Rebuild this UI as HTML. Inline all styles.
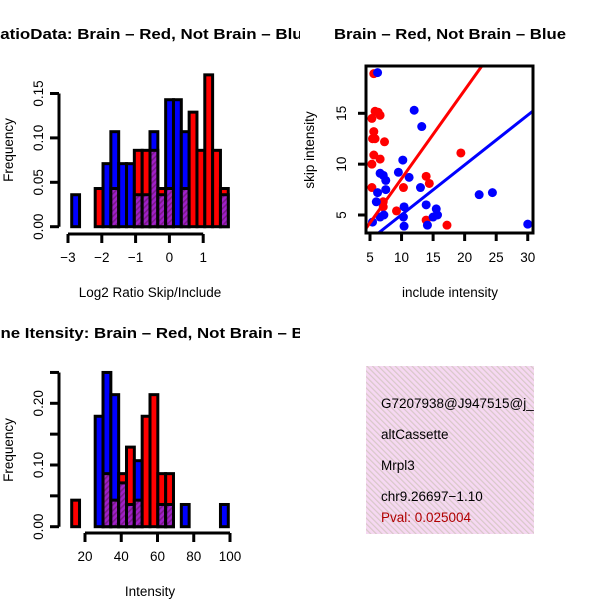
<!DOCTYPE html>
<html><head><meta charset="utf-8"><style>
body{margin:0;background:#fff}
svg{display:block;font-family:"Liberation Sans",Arial,sans-serif}
</style></head><body>
<svg id="c" width="600" height="600" viewBox="0 0 600 600">
<defs>
<pattern id="ph" width="4" height="4" patternUnits="userSpaceOnUse" patternTransform="rotate(45)">
<rect width="4" height="4" fill="#a020c8"/><rect width="1.6" height="4" fill="#7a1a8a"/></pattern>
<pattern id="pk" width="4" height="4" patternUnits="userSpaceOnUse" patternTransform="rotate(-45)">
<rect width="4" height="4" fill="#f6d8f2"/><rect width="1.2" height="4" fill="#d8c8c8"/></pattern>
<clipPath id="cl1"><rect x="0" y="0" width="300" height="300"/></clipPath>
<clipPath id="cl2"><rect x="0" y="300" width="300" height="300"/></clipPath>
<clipPath id="cl3"><rect x="366" y="66" width="167" height="167"/></clipPath>
<clipPath id="cl4"><rect x="366" y="366" width="168" height="168"/></clipPath>
</defs>
<text x="-12" y="39" font-size="14.5" font-weight="bold" textLength="324" lengthAdjust="spacingAndGlyphs" clip-path="url(#cl1)">RatioData: Brain – Red, Not Brain – Blue</text>
<text x="334" y="39" font-size="14.5" font-weight="bold" textLength="232" lengthAdjust="spacingAndGlyphs">Brain – Red, Not Brain – Blue</text>
<text x="-22" y="338" font-size="14.5" font-weight="bold" textLength="350" lengthAdjust="spacingAndGlyphs" clip-path="url(#cl2)">Gene Itensity: Brain – Red, Not Brain – Blue</text>
<g id="h1"></g>
<g id="h2"></g>
<g id="sc"></g>
<g>
<rect x="366" y="366" width="168" height="168" fill="url(#pk)"/>
<g font-size="13.5" clip-path="url(#cl4)">
<text x="381" y="408">G7207938@J947515@j_</text>
<text x="381" y="439">altCassette</text>
<text x="381" y="470">Mrpl3</text>
<text x="381" y="501">chr9.26697−1.10</text>
<text x="381" y="522" fill="#b00000">Pval: 0.025004</text>
</g></g>
</svg>
<script>
// Ratio histogram data
const h1Start = -2.89, h1Width = 0.2316;
const h1Red  = [0,0,0,.043,0,.043,0,0,.086,.086,.086,.043,.043,0,.043,.129,.086,.171,.086,.043];
const h1Blue = [.036,0,0,0,.071,.107,.071,.071,.036,.036,.107,.036,.143,.143,.107,0,0,0,0,.036];
const h1XTicks = [-3,-2,-1,0,1];
const h1YTicks = [0,0.05,0.10,0.15];
const h1YLabels = ["0.00","0.05","0.10","0.15"];
// Intensity histogram data
const h2Start = 12.66, h2Width = 4.32;
const h2Red  = [.043,0,0,0,.086,.043,.086,.129,.043,.179,.214,.086,.086,0,0,0,0,0,0,0];
const h2Blue = [0,0,0,.179,.25,.214,.071,.036,.107,0,0,.036,.036,0,.036,0,0,0,0,.036];
const h2XTicks = [20,40,60,80,100];
const h2YTicks = [0,0.05,0.10,0.15,0.20,0.25];
const h2YLabels = ["0.00","","0.10","","0.20",""];
// Scatter data
const redX = [5.6,5.8,6.3,5.3,6.6,5.6,5.8,5.4,7.3,5.6,6.6,5.3,5.3,7.1,7.1,9.2,10.3,13.9,14.4,13.9,17.2,19.4];
const redY = [18.9,15.2,15.1,14.5,14.8,13.2,12.5,12.5,12.2,10.9,10.5,10.0,7.7,6.3,5.8,5.4,7.7,8.8,8.1,4.5,4.0,11.1];
const blueX = [6.2,12.0,13.2,10.2,6.6,7.1,7.5,9.5,11.2,13.0,7.5,6.2,6.0,13.9,22.3,24.4,10.4,10.3,10.4,15.5,15.7,15.0,14.1,5.4,6.6,7.2,30.0];
const blueY = [19.0,15.3,13.7,10.4,9.1,8.9,8.4,9.2,8.7,7.7,7.5,7.2,6.3,6.0,7.0,7.2,5.8,4.8,3.9,5.6,5.0,4.8,4.0,4.3,4.8,5.0,4.1];
const redFit = [-0.12, 0.87];
const blueFit = [0.12, 0.49];
const scXTicks = [5,10,15,20,25,30];
const scYTicks = [5,10,15];

const NS = "http://www.w3.org/2000/svg";
const FS = 13.5;
function mk(parent, tag, attrs, text){
  const e = document.createElementNS(NS, tag);
  for (const k in attrs) e.setAttribute(k, attrs[k]);
  if (text !== undefined) e.textContent = text;
  parent.appendChild(e); return e;
}

function hist(g, start, width, red, blue, xs, ys, cfg){
  const X = v => cfg.x0 + (v - cfg.xv0) * cfg.xs;
  const Y = v => cfg.y0 - v * cfg.ys;
  for (let i = 0; i < red.length; i++){
    const a = X(start + i*width), b = X(start + (i+1)*width);
    const r = red[i], bl = blue[i];
    const big = Math.max(r, bl), small = Math.min(r, bl);
    const col = r >= bl ? "#ff0000" : "#0000ff";
    const e = mk(g, "rect", {x:a, y:Y(big), width:b-a, height:Y(0)-Y(big), fill:col, stroke:"#000", "stroke-width":3});
    
    
    if (small > 0){
      const p = mk(g, "rect", {x:a, y:Y(small), width:b-a, height:Y(0)-Y(small), fill:"url(#ph)", stroke:"#000", "stroke-width":3});
      
      
    }
  }
  const xa = mk(g, "g", {});
  
  
  mk(xa, "line", {x1:X(xs[0]), x2:X(xs[xs.length-1]), y1:cfg.xAxisY, y2:cfg.xAxisY, stroke:"#000", "stroke-width":3});
  xs.forEach(t => {
    mk(xa, "line", {x1:X(t), x2:X(t), y1:cfg.xAxisY, y2:cfg.xAxisY+9, stroke:"#000", "stroke-width":3});
    const l = mk(xa, "text", {x:X(t), y:cfg.xAxisY+28, "font-size":FS, "text-anchor":"middle"}, t < 0 ? "−"+(-t) : String(t));
    
    
  });
  const ya = mk(g, "g", {});
  
  
  mk(ya, "line", {x1:cfg.yAxisX, x2:cfg.yAxisX, y1:Y(ys[0]), y2:Y(ys[ys.length-1]), stroke:"#000", "stroke-width":3});
  ys.forEach((t, i) => {
    mk(ya, "line", {x1:cfg.yAxisX, x2:cfg.yAxisX-9, y1:Y(t), y2:Y(t), stroke:"#000", "stroke-width":3});
    if (cfg.ylabels[i]){
      const l = mk(ya, "text", {x:cfg.yAxisX-16, y:Y(t), "font-size":FS, "text-anchor":"middle", transform:`rotate(-90 ${cfg.yAxisX-16} ${Y(t)})`}, cfg.ylabels[i]);
      
      
    }
  });
  const xl = mk(g, "text", {x:150, y:cfg.xlabY, "font-size":FS, "text-anchor":"middle"}, cfg.xlab);
  
  
  const yl = mk(g, "text", {x:13, y:cfg.ylabCY, "font-size":FS, "text-anchor":"middle", transform:`rotate(-90 13 ${cfg.ylabCY})`}, "Frequency");
  
  
}

hist(document.getElementById("h1"), h1Start, h1Width, h1Red, h1Blue, h1XTicks, h1YTicks,
  {x0:68, xv0:-3, xs:33.8, y0:226.7, ys:888, xAxisY:234, yAxisX:59, ylabels:h1YLabels, xlab:"Log2 Ratio Skip/Include", xlabY:297, ylabCY:150});
hist(document.getElementById("h2"), h2Start, h2Width, h2Red, h2Blue, h2XTicks, h2YTicks,
  {x0:85, xv0:20, xs:1.8125, y0:526.7, ys:617, xAxisY:533, yAxisX:59, ylabels:h2YLabels, xlab:"Intensity", xlabY:596, ylabCY:450});

(function(){
  const g = document.getElementById("sc");
  const X = v => 370 + (v - 5) * 6.31;
  const Y = v => 215 - (v - 5) * 10.17;
  const cg = mk(g, "g", {"clip-path":"url(#cl3)"});
  redX.forEach((x, i) => {
    const c = mk(cg, "circle", {cx:X(x), cy:Y(redY[i]), r:4.5, fill:"#ff0000"});
    
    
  });
  blueX.forEach((x, i) => {
    const c = mk(cg, "circle", {cx:X(x), cy:Y(blueY[i]), r:4.5, fill:"#0000ff"});
    
    
  });
  const l1 = mk(cg, "line", {x1:X(0), y1:Y(redFit[0]), x2:X(40), y2:Y(redFit[0]+redFit[1]*40), stroke:"#ff0000", "stroke-width":3});
  
  
  const l2 = mk(cg, "line", {x1:X(0), y1:Y(blueFit[0]), x2:X(40), y2:Y(blueFit[0]+blueFit[1]*40), stroke:"#0000ff", "stroke-width":3});
  
  
  const box = mk(g, "rect", {x:366, y:66, width:167, height:167, fill:"none", stroke:"#000", "stroke-width":3});
  
  
  scXTicks.forEach(t => {
    mk(g, "line", {x1:X(t), x2:X(t), y1:233, y2:241, stroke:"#000", "stroke-width":3});
    const l = mk(g, "text", {x:X(t), y:262, "font-size":FS, "text-anchor":"middle"}, String(t));
    
    
  });
  scYTicks.forEach(t => {
    mk(g, "line", {x1:366, x2:358, y1:Y(t), y2:Y(t), stroke:"#000", "stroke-width":3});
    const l = mk(g, "text", {x:346, y:Y(t), "font-size":FS, "text-anchor":"middle", transform:`rotate(-90 346 ${Y(t)})`}, String(t));
    
    
  });
  const xl = mk(g, "text", {x:450, y:297, "font-size":FS, "text-anchor":"middle"}, "include intensity");
  
  
  const yl = mk(g, "text", {x:314, y:150, "font-size":FS, "text-anchor":"middle", transform:"rotate(-90 314 150)"}, "skip intensity");
  
  
})();
</script>
</body></html>
